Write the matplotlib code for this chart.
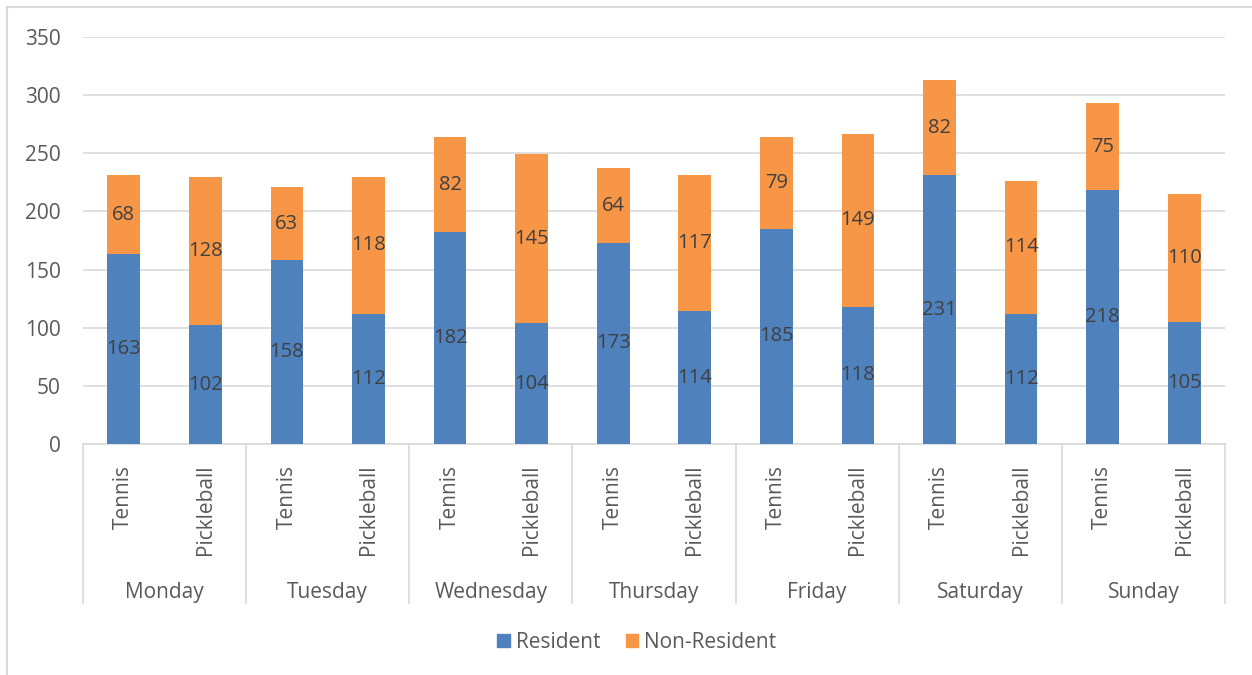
import matplotlib.pyplot as plt
import matplotlib.patches as mpatches
import numpy as np

# 数据
days = ['Monday', 'Tuesday', 'Wednesday', 'Thursday', 'Friday', 'Saturday', 'Sunday']
sports = ['Tennis', 'Pickleball']
resident = [163, 102, 158, 112, 182, 104, 173, 114, 185, 118, 231, 112, 218, 105]
non_resident = [68, 128, 63, 118, 82, 145, 64, 117, 79, 149, 82, 114, 75, 110]

blue = '#4F81BD'
orange = '#F79646'
grid_color = '#D9D9D9'
text_color = '#595959'
label_color = '#404040'
fs = 15

plt.rcParams['font.family'] = ['Open Sans', 'DejaVu Sans']

fig = plt.figure(figsize=(12.52, 6.75), dpi=100)
W, H = 1252, 675
ax = fig.add_axes([83 / W, 231 / H, (1225 - 83) / W, (638 - 231) / H])

x = np.arange(len(resident))
bar_w = 0.4
ax.bar(x, resident, bar_w, color=blue, label='Resident', zorder=3)
ax.bar(x, non_resident, bar_w, bottom=resident, color=orange, label='Non-Resident', zorder=3)

# 数据标签
for i in range(len(x)):
    ax.text(x[i], resident[i] / 2, str(resident[i]), ha='center', va='center',
            fontsize=14.5, color=label_color, zorder=4)
    ax.text(x[i], resident[i] + non_resident[i] / 2, str(non_resident[i]), ha='center',
            va='center', fontsize=14.5, color=label_color, zorder=4)

ax.set_xlim(-0.5, len(x) - 0.5)
ax.set_ylim(0, 350)
ax.set_yticks(np.arange(0, 351, 50))
ax.yaxis.grid(True, color=grid_color, linewidth=1.2, zorder=0)
ax.tick_params(axis='y', length=0, labelsize=fs, labelcolor=text_color, pad=16)
ax.set_xticks([])
for s in ['left', 'right', 'top']:
    ax.spines[s].set_visible(False)
ax.spines['bottom'].set_color(grid_color)
ax.spines['bottom'].set_linewidth(1.2)

# 两级类别标签
sep_len = (603 - 444) / (638 - 231)
for g in range(len(days) + 1):
    xs = g * len(sports) - 0.5
    ax.plot([xs, xs], [0, -sep_len], transform=ax.get_xaxis_transform(),
            color=grid_color, linewidth=1.2, clip_on=False)
for i in range(len(x)):
    ax.annotate(sports[i % len(sports)], xy=(x[i], 0), xycoords=('data', 'axes fraction'),
                xytext=(0, -15), textcoords='offset points', rotation=90,
                ha='center', va='top', fontsize=fs, color=text_color)
for g, day in enumerate(days):
    xc = g * len(sports) + (len(sports) - 1) / 2
    ax.annotate(day, xy=(xc, 0), xycoords=('data', 'axes fraction'),
                xytext=(0, -107), textcoords='offset points',
                ha='center', va='center', fontsize=fs, color=text_color)

# 图例
handles = [mpatches.Patch(color=blue, label='Resident'),
           mpatches.Patch(color=orange, label='Non-Resident')]
fig.legend(handles=handles, loc='center', bbox_to_anchor=(637 / W, 33 / H), ncol=2,
           frameon=False, fontsize=fs, labelcolor=text_color, handlelength=0.6,
           handleheight=0.6, handletextpad=0.3, columnspacing=1.2)

# 外边框
fig.patches.append(mpatches.Rectangle((7 / W, -0.1), 1.2, (H - 7) / H + 0.1,
                                      transform=fig.transFigure, fill=False,
                                      edgecolor=grid_color, linewidth=1.5))

plt.savefig('out.png', dpi=100)
